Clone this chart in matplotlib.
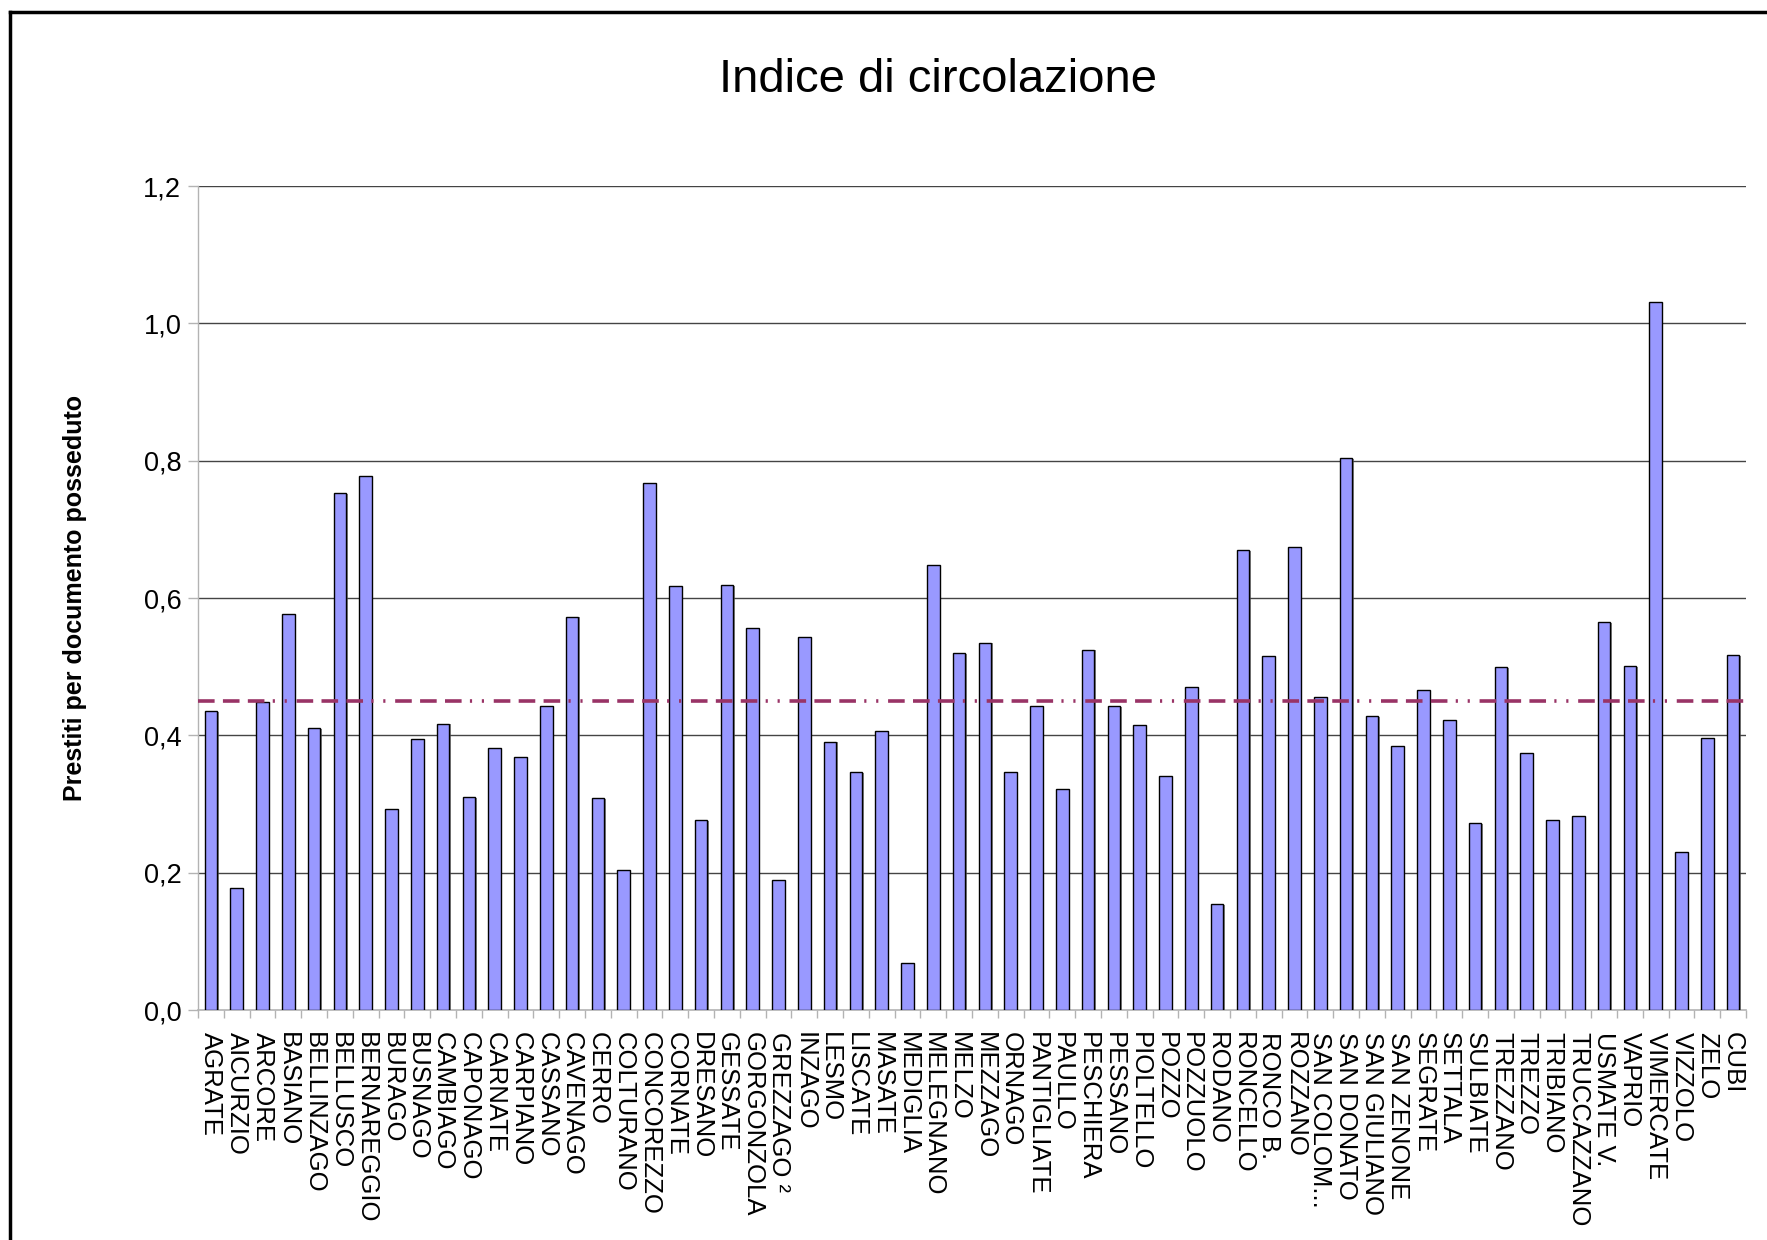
import matplotlib
matplotlib.use("Agg")
import matplotlib.pyplot as plt
import matplotlib.patheffects as pe
from matplotlib.lines import Line2D
import numpy as np

plt.rcParams['font.family'] = ['Liberation Sans', 'DejaVu Sans']

categories = ["AGRATE", "AICURZIO", "ARCORE", "BASIANO", "BELLINZAGO", "BELLUSCO",
              "BERNAREGGIO", "BURAGO", "BUSNAGO", "CAMBIAGO", "CAPONAGO", "CARNATE",
              "CARPIANO", "CASSANO", "CAVENAGO", "CERRO", "COLTURANO", "CONCOREZZO",
              "CORNATE", "DRESANO", "GESSATE", "GORGONZOLA", "GREZZAGO \u00b2", "INZAGO",
              "LESMO", "LISCATE", "MASATE", "MEDIGLIA", "MELEGNANO", "MELZO", "MEZZAGO",
              "ORNAGO", "PANTIGLIATE", "PAULLO", "PESCHIERA", "PESSANO", "PIOLTELLO",
              "POZZO", "POZZUOLO", "RODANO", "RONCELLO", "RONCO B.", "ROZZANO",
              "SAN COLOM...", "SAN DONATO", "SAN GIULIANO", "SAN ZENONE", "SEGRATE",
              "SETTALA", "SULBIATE", "TREZZANO", "TREZZO", "TRIBIANO", "TRUCCAZZANO",
              "USMATE V.", "VAPRIO", "VIMERCATE", "VIZZOLO", "ZELO", "CUBI"]

values = [0.435, 0.177, 0.448, 0.576, 0.410, 0.753,
          0.778, 0.292, 0.394, 0.417, 0.310, 0.381,
          0.369, 0.443, 0.573, 0.309, 0.204, 0.768,
          0.617, 0.277, 0.619, 0.556, 0.190, 0.543,
          0.391, 0.346, 0.407, 0.069, 0.648, 0.520, 0.535,
          0.346, 0.442, 0.322, 0.525, 0.443, 0.415,
          0.341, 0.471, 0.154, 0.670, 0.515, 0.675,
          0.456, 0.804, 0.428, 0.384, 0.466,
          0.422, 0.272, 0.499, 0.374, 0.276, 0.282,
          0.565, 0.501, 1.031, 0.230, 0.396, 0.517]

average = 0.450

y_ticks = [0.0, 0.2, 0.4, 0.6, 0.8, 1.0, 1.2]
y_tick_labels = ["0,0", "0,2", "0,4", "0,6", "0,8", "1,0", "1,2"]

title = "Indice di circolazione"
ylabel = "Prestiti per documento posseduto"

W, H = 1767, 1240
fig = plt.figure(figsize=(W / 100, H / 100), dpi=100)
fig.patch.set_facecolor("white")

ax = fig.add_axes([198 / W, 1 - 1010 / H, (1746 - 198) / W, (1010 - 186) / H])

n = len(categories)
x = np.arange(n)
bars = ax.bar(x, values, width=0.49, color="#9999ff", edgecolor="black",
              linewidth=1.0, zorder=3)
for b in bars:
    b.set_path_effects([pe.SimplePatchShadow(offset=(1.0, -0.6), shadow_rgbFace="#555555", alpha=0.7),
                        pe.Normal()])

ax.axhline(average, color="#993366", linewidth=2.6, zorder=4,
           linestyle=(0, (4.6, 2.3, 4.6, 2.3, 4.6, 2.3, 0.6, 2.7, 0.6, 2.7)),
           dash_capstyle="butt")

ax.set_xlim(-0.5, n - 0.5)
ax.set_ylim(0, 1.2)
ax.set_yticks(y_ticks)
ax.set_yticklabels(y_tick_labels, fontsize=19.5)
for yv in y_ticks[1:]:
    ax.axhline(yv, color="#444444", linewidth=1.0, zorder=1)

ax.set_xticks(x)
ax.set_xticklabels(categories, rotation=-90, fontsize=18.5, va="top", ha="center")
ax.set_xticks(np.arange(n + 1) - 0.5, minor=True)
ax.tick_params(axis="x", which="major", length=0, pad=16)
ax.tick_params(axis="x", which="minor", length=6, color="#b3b3b3", width=1.0)
ax.tick_params(axis="y", length=7, color="#b3b3b3", width=1.0, pad=5)

for s in ["top", "right"]:
    ax.spines[s].set_visible(False)
ax.spines["left"].set_color("#b3b3b3")
ax.spines["bottom"].set_color("#b3b3b3")
ax.spines["left"].set_linewidth(1.0)
ax.spines["bottom"].set_linewidth(1.2)

fig.text(938 / W, 1 - 80 / H, title, fontsize=34, ha="center", va="center")
fig.text(75 / W, 1 - 598 / H, ylabel, fontsize=18, fontweight="bold",
         rotation=90, ha="center", va="center")

# outer frame (top and left edges visible)
fig.add_artist(Line2D([10 / W, 10 / W], [-0.1, 1 - 12 / H], color="black", linewidth=2.5,
                      transform=fig.transFigure))
fig.add_artist(Line2D([10 / W, 1.1], [1 - 12 / H, 1 - 12 / H], color="black", linewidth=2.5,
                      transform=fig.transFigure))

fig.savefig("out.png", dpi=100, facecolor="white")
